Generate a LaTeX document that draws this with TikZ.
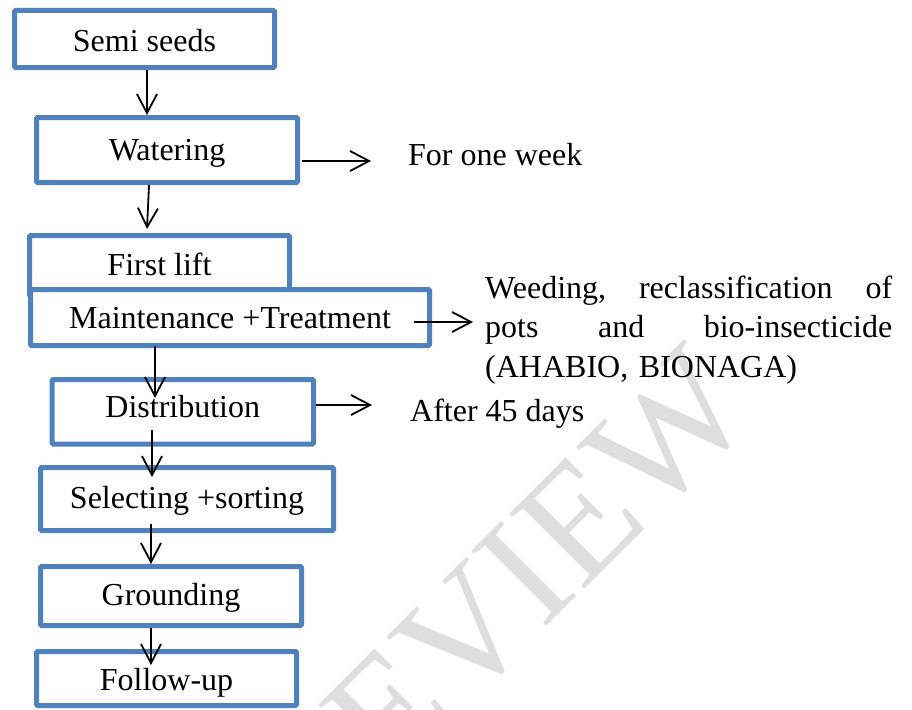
\documentclass[tikz,border=0pt]{standalone}
\usepackage{fontspec}
\setmainfont{Liberation Serif}
\usetikzlibrary{arrows.meta}
\definecolor{boxblue}{RGB}{79,129,189}
\definecolor{wmgray}{RGB}{222,222,222}
\begin{document}
\begin{tikzpicture}[x=1pt,y=-1pt,
  stepbox/.style={draw=boxblue, line width=5pt, fill=white, inner sep=0pt, outer sep=2.5pt, rounded corners=1.2pt},
  lbl/.style={inner sep=0pt, font=\fontsize{32}{39.5}\selectfont},
  arr/.style={line width=1.8pt, -{Straight Barb[length=19pt,width=20pt]}}]
\useasboundingbox (0,0) rectangle (912,709);
\begin{scope}
\clip (0,0) rectangle (912,709);
\node[inner sep=0pt, rotate=45, text=wmgray, font=\fontsize{162}{162}\selectfont] (wm) at (468,632) {PREVIEW};
\end{scope}
% boxes
\node[stepbox, minimum width=260pt, minimum height=57pt] (b1) at (144.5,39) {};
\node[stepbox, minimum width=261pt, minimum height=65pt] (b2) at (167,150) {};
\node[stepbox, minimum width=260pt, minimum height=60.5pt] (b3) at (159.5,265.75) {};
\node[stepbox, minimum width=399pt, minimum height=56pt] (b4) at (230,317.5) {};
\node[stepbox, minimum width=261.5pt, minimum height=64.5pt] (b5) at (182.75,411.75) {};
\node[stepbox, minimum width=293pt, minimum height=63pt] (b6) at (187,499) {};
\node[stepbox, minimum width=261pt, minimum height=59pt] (b7) at (171,596) {};
\node[stepbox, minimum width=260pt, minimum height=54pt] (b8) at (166.5,678.5) {};
% labels
\node[lbl, anchor=base] (t1) at (144.5,52) {Semi seeds};
\node[lbl, anchor=base] (t2) at (167,160) {Watering};
\node[lbl, anchor=base] (t3) at (159.5,275) {First lift};
\node[lbl, anchor=base] (t4) at (230,328) {Maintenance +Treatment};
\node[lbl, anchor=base] (t5) at (182.75,417) {Distribution};
\node[lbl, anchor=base] (t6) at (187,508) {Selecting +sorting};
\node[lbl, anchor=base] (t7) at (171,605) {Grounding};
\node[lbl, anchor=base] (t8) at (166.5,690) {Follow-up};
% side texts
\node[lbl, anchor=base west] (w1) at (408,165) {For one week};
\node[lbl, text width=407pt, align=left, anchor=base west] (w2) at (485,298)
  {Weeding,\hfill reclassification\hfill of\\ pots\hfill and\hfill bio-insecticide\\ (AHABIO, BIONAGA)};
\node[lbl, anchor=base west] (w3) at (410,421) {After 45 days};
% vertical arrows
\draw[arr] ([xshift=2.5pt]b1.south) -- ([xshift=-20pt]b2.north);
\draw[arr] ([xshift=-18pt]b2.south) -- ([xshift=-12.5pt,yshift=4pt]b3.north);
\draw[arr] ([xshift=-75pt,yshift=2pt]b4.south) -- ([xshift=-27.75pt,yshift=-21pt]b5.north);
\draw[arr] ([xshift=-30.75pt,yshift=16.5pt]b5.south) -- ([xshift=-35pt,yshift=-12pt]b6.north);
\draw[arr] ([xshift=-36pt,yshift=9pt]b6.south) -- ([xshift=-20pt]b7.north);
\draw[arr] ([xshift=-20pt]b7.south) -- ([xshift=-15.5pt,yshift=-16pt]b8.north);
% side arrows
\draw[arr] ([shift={(2pt,-11pt)}]b2.east) -- ([shift={(-37pt,4pt)}]w1.base west);
\draw[arr] ([shift={(-18pt,-4.5pt)}]b4.east) -- ([shift={(-12pt,-24pt)}]w2.base west);
\draw[arr] ([shift={(0pt,6.75pt)}]b5.east) -- ([shift={(-38pt,16pt)}]w3.base west);
\end{tikzpicture}
\end{document}
